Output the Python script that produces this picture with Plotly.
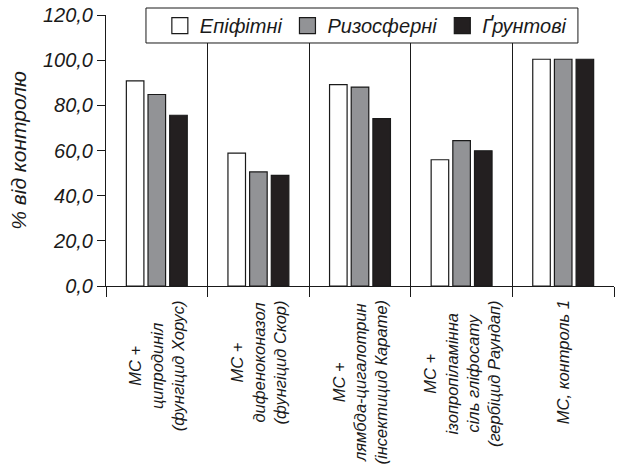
import plotly.graph_objects as go

categories = [
    "МС +<br>ципродиніл<br>(фунгіцид Хорус)",
    "МС +<br>дифеноконазол<br>(фунгіцид Скор)",
    "МС +<br>лямбда-цигалотрин<br>(інсектицид Карате)",
    "МС +<br>ізопропіламінна<br>сіль гліфосату<br>(гербіцид Раундап)",
    "МС, контроль 1",
]
series_names = ["Епіфітні", "Ризосферні", "Ґрунтові"]
epiphytic = [90.8, 58.8, 89.2, 55.9, 100.4]
rhizosphere = [84.8, 50.5, 88.1, 64.4, 100.4]
soil = [75.6, 49.0, 74.1, 59.9, 100.4]
series_values = [epiphytic, rhizosphere, soil]
colors = ["#ffffff", "#929396", "#231f20"]
y_ticks = [0, 20, 40, 60, 80, 100, 120]

FONT = "Liberation Sans, Arial, sans-serif"
INK = "#1a1a1a"

fig = go.Figure()
for name, vals, col in zip(series_names, series_values, colors):
    fig.add_trace(go.Bar(
        x=categories, y=vals, name=name, showlegend=False,
        marker=dict(color=col, line=dict(color=INK, width=1.2)),
    ))
    # legend proxies with larger square symbols
    fig.add_trace(go.Scatter(
        x=[None], y=[None], mode="markers", name=name,
        marker=dict(symbol="square", size=18, color=col,
                    line=dict(color=INK, width=1.2)),
    ))

for lab in categories:
    fig.add_annotation(
        x=lab, xref="x", y=0, yref="paper", yanchor="top", xanchor="center",
        yshift=-12, text="<i>" + lab + "</i>", textangle=-90, align="center",
        showarrow=False, font=dict(family=FONT, size=16.5, color=INK),
    )

# legend frame
fig.add_shape(
    type="rect", xref="paper", yref="paper",
    x0=0.0787, x1=0.929, y0=0.8967, y1=1.0258,
    fillcolor="white", line=dict(color=INK, width=1), layer="above",
)

fig.update_layout(
    width=618, height=464,
    margin=dict(l=106, r=4, t=15, b=178, autoexpand=False),
    plot_bgcolor="white", paper_bgcolor="white",
    separators=", ",
    barmode="group", bargap=0.36, bargroupgap=0.19,
    font=dict(family=FONT, color=INK),
    legend=dict(
        orientation="h", x=0.106, xanchor="left", y=0.961, yanchor="middle",
        bgcolor="rgba(0,0,0,0)", borderwidth=0,
        font=dict(family=FONT, size=20, color=INK, style="italic"),
        itemclick=False,
    ),
    xaxis=dict(
        type="category", categoryorder="array", categoryarray=categories,
        automargin=False, showticklabels=False,
        tickson="boundaries", ticks="outside", ticklen=10, tickcolor=INK,
        showline=True, linecolor=INK, linewidth=1,
        showgrid=True, gridcolor=INK, gridwidth=1,
        zeroline=False,
    ),
    yaxis=dict(
        automargin=False,
        range=[0, 120], tickvals=y_ticks, tickformat=".1f",
        ticks="outside", ticklen=8, tickcolor=INK,
        showline=True, linecolor=INK, linewidth=1,
        showgrid=False, zeroline=False,
        tickfont=dict(family=FONT, size=20, color=INK, style="italic"),
        title=dict(text="<i>% від контролю</i>", standoff=10,
                   font=dict(family=FONT, size=21, color=INK)),
    ),
)

fig.write_html(
    "out.html",
    config={"displayModeBar": False},
    post_script="document.body.style.margin='0';document.body.style.overflow='hidden';",
)
